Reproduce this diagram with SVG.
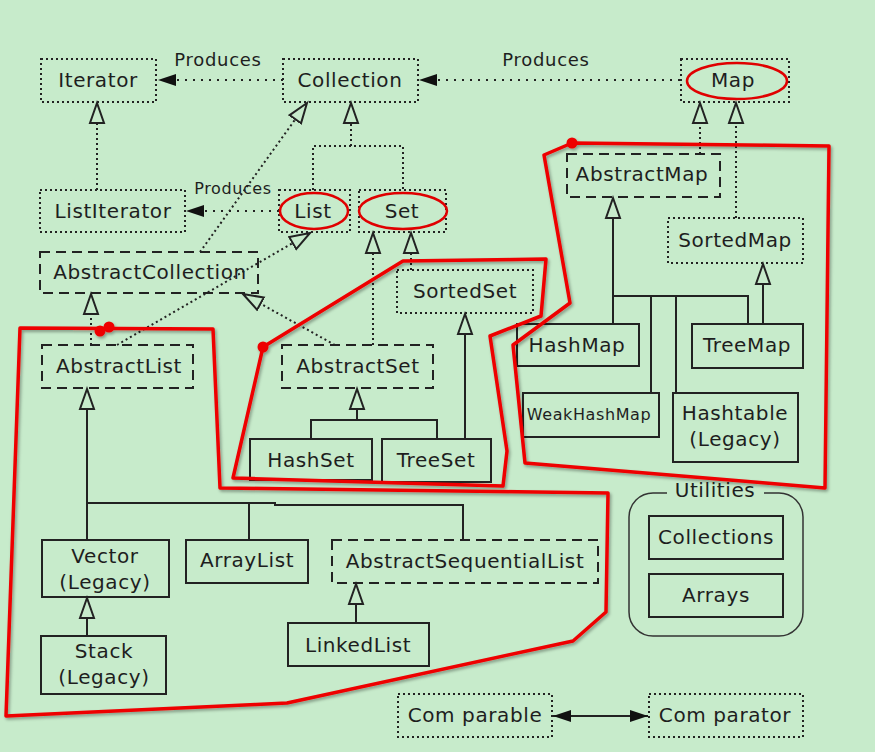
<svg xmlns="http://www.w3.org/2000/svg" width="875" height="752" viewBox="0 0 875 752">
<defs>
<style>
.box{fill:none;stroke:#222;stroke-width:2}
.dot{stroke-dasharray:2 3}
.dash{stroke-dasharray:10 6}
.t{font-family:"DejaVu Sans","Liberation Sans",sans-serif;font-size:20px;letter-spacing:0.6px;fill:#1e1e1e;text-anchor:middle}
.ln{fill:none;stroke:#222;stroke-width:2}
.dl{stroke-dasharray:2 3}
.prod{fill:none;stroke:#222;stroke-width:2;stroke-dasharray:2 6}
.red{fill:none;stroke:#ee0000;stroke-width:3.5;stroke-linejoin:round}
.ell{fill:none;stroke:#e00000;stroke-width:2.5}
</style>
<marker id="hollow" markerUnits="userSpaceOnUse" markerWidth="24" markerHeight="18" viewBox="0 -9 24 18" refX="21" refY="0" orient="auto">
<path d="M21,0 L1,-7 L1,7 Z" fill="#c7ebcb" stroke="#222" stroke-width="2" stroke-linejoin="miter"/>
</marker>
<marker id="filled" markerUnits="userSpaceOnUse" markerWidth="20" markerHeight="14" viewBox="0 -7 20 14" refX="19" refY="0" orient="auto-start-reverse">
<path d="M19,0 L1,-6 L1,6 Z" fill="#111"/>
</marker>
<filter id="sh" x="-5%" y="-5%" width="110%" height="110%">
<feDropShadow dx="1.5" dy="2" stdDeviation="1.5" flood-color="#000" flood-opacity="0.35"/>
</filter>
</defs>
<rect x="0" y="0" width="875" height="752" fill="#c7ebcb"/>

<g id="connectors">
<!-- Produces -->
<path class="prod" d="M283,80 H158" marker-end="url(#filled)"/>
<path class="prod" d="M680,80 H419" marker-end="url(#filled)"/>
<path class="prod" d="M279,211 H186" marker-end="url(#filled)"/>
<text class="t" x="218" y="66" style="font-size:18px;letter-spacing:0.7px">Produces</text>
<text class="t" x="546" y="66" style="font-size:18px;letter-spacing:0.7px">Produces</text>
<text class="t" x="233" y="194" style="font-size:16px;letter-spacing:0.6px">Produces</text>
<!-- ListIterator -> Iterator -->
<path class="ln dl" d="M97,190 V103" marker-end="url(#hollow)"/>
<!-- List, Set -> Collection -->
<path class="ln dl" d="M351,146 V103" marker-end="url(#hollow)"/>
<path class="ln dl" d="M313,190 V146 H403 V190"/>
<!-- AbstractCollection -> Collection -->
<path class="ln dl" d="M200,252 L307,103" marker-end="url(#hollow)"/>
<!-- AbstractList -> List -->
<path class="ln dl" d="M117,345 L310,233" marker-end="url(#hollow)"/>
<!-- AbstractList -> AbstractCollection -->
<path class="ln dl" d="M91,345 V294" marker-end="url(#hollow)"/>
<!-- AbstractSet -> AbstractCollection -->
<path class="ln dl" d="M335,345 L243,294" marker-end="url(#hollow)"/>
<!-- AbstractSet -> Set -->
<path class="ln dl" d="M373,345 V233" marker-end="url(#hollow)"/>
<!-- SortedSet -> Set -->
<path class="ln dl" d="M411,270 V233" marker-end="url(#hollow)"/>
<!-- HashSet, TreeSet -> AbstractSet -->
<path class="ln" d="M357,420 V389" marker-end="url(#hollow)"/>
<path class="ln" d="M311,439 V420 H437 V439"/>
<!-- TreeSet -> SortedSet -->
<path class="ln" d="M465,439 V314" marker-end="url(#hollow)"/>
<!-- AbstractMap -> Map -->
<path class="ln dl" d="M700,154 V103" marker-end="url(#hollow)"/>
<!-- SortedMap -> Map -->
<path class="ln dl" d="M736,218 V103" marker-end="url(#hollow)"/>
<!-- Map implementations -> AbstractMap -->
<path class="ln" d="M613,324 V198" marker-end="url(#hollow)"/>
<path class="ln" d="M613,296 H748 V324 M651,296 V393 M676,296 V393"/>
<!-- TreeMap -> SortedMap -->
<path class="ln" d="M763,324 V264" marker-end="url(#hollow)"/>
<!-- List implementations -> AbstractList -->
<path class="ln" d="M87,540 V389" marker-end="url(#hollow)"/>
<path class="ln" d="M87,503 H275 V505 H463 V540 M249,503 V540"/>
<!-- Stack -> Vector -->
<path class="ln" d="M87,636 V598" marker-end="url(#hollow)"/>
<!-- LinkedList -> AbstractSequentialList -->
<path class="ln" d="M356,623 V584" marker-end="url(#hollow)"/>
<!-- Comparable <-> Comparator -->
<path class="ln" d="M553,716 H648" marker-start="url(#filled)" marker-end="url(#filled)"/>
</g>

<g id="node-iterator"><rect class="box dot" x="41" y="59" width="115" height="43"/><text class="t" x="98" y="87">Iterator</text></g>
<g id="node-collection"><rect class="box dot" x="283" y="59" width="135" height="43"/><text class="t" x="350" y="87">Collection</text></g>
<g id="node-map"><rect class="box dot" x="681" y="59" width="108" height="43"/><text class="t" x="733" y="87">Map</text></g>
<g id="node-listiterator"><rect class="box dot" x="40" y="190" width="145" height="42"/><text class="t" x="113" y="218">ListIterator</text></g>
<g id="node-list"><rect class="box dot" x="279" y="190" width="71" height="42"/><text class="t" x="313" y="218">List</text></g>
<g id="node-set"><rect class="box dot" x="359" y="190" width="87" height="42"/><text class="t" x="402" y="218">Set</text></g>
<g id="node-abstractcollection"><rect class="box dash" x="40" y="252" width="218" height="41"/><text class="t" x="150" y="279">AbstractCollection</text></g>
<g id="node-abstractlist"><rect class="box dash" x="42" y="345" width="151" height="43"/><text class="t" x="119" y="373">AbstractList</text></g>
<g id="node-abstractset"><rect class="box dash" x="282" y="345" width="151" height="43"/><text class="t" x="358" y="373">AbstractSet</text></g>
<g id="node-sortedset"><rect class="box dot" x="397" y="270" width="136" height="43"/><text class="t" x="465" y="298">SortedSet</text></g>
<g id="node-hashset"><rect class="box" x="250" y="439" width="122" height="41"/><text class="t" x="311" y="467">HashSet</text></g>
<g id="node-treeset"><rect class="box" x="382" y="439" width="109" height="43"/><text class="t" x="436" y="467">TreeSet</text></g>
<g id="node-abstractmap"><rect class="box dash" x="567" y="154" width="153" height="43"/><text class="t" x="642" y="181">AbstractMap</text></g>
<g id="node-sortedmap"><rect class="box dot" x="668" y="218" width="135" height="45"/><text class="t" x="735" y="247">SortedMap</text></g>
<g id="node-hashmap"><rect class="box" x="517" y="324" width="122" height="42"/><text class="t" x="577" y="352">HashMap</text></g>
<g id="node-treemap"><rect class="box" x="692" y="324" width="111" height="44"/><text class="t" x="747" y="352">TreeMap</text></g>
<g id="node-weakhashmap"><rect class="box" x="523" y="393" width="136" height="44"/><text class="t" x="589" y="420" style="font-size:16px;letter-spacing:0.6px">WeakHashMap</text></g>
<g id="node-hashtable"><rect class="box" x="673" y="393" width="125" height="69"/><text class="t" x="735" y="420">Hashtable</text><text class="t" x="735" y="446">(Legacy)</text></g>
<g id="node-vector"><rect class="box" x="42" y="540" width="127" height="57"/><text class="t" x="105" y="563">Vector</text><text class="t" x="105" y="589">(Legacy)</text></g>
<g id="node-arraylist"><rect class="box" x="186" y="540" width="122" height="43"/><text class="t" x="247" y="567">ArrayList</text></g>
<g id="node-abstractsequentiallist"><rect class="box dash" x="332" y="540" width="266" height="43"/><text class="t" x="465" y="568">AbstractSequentialList</text></g>
<g id="node-linkedlist"><rect class="box" x="288" y="623" width="141" height="43"/><text class="t" x="358" y="652">LinkedList</text></g>
<g id="node-stack"><rect class="box" x="41" y="636" width="125" height="58"/><text class="t" x="104" y="658">Stack</text><text class="t" x="104" y="684">(Legacy)</text></g>
<g id="node-utilities">
<path d="M667,493 H653 A24,24 0 0 0 629,517 V612 A24,24 0 0 0 653,636 H779 A24,24 0 0 0 803,612 V517 A24,24 0 0 0 779,493 H764" fill="none" stroke="#333" stroke-width="1.5"/>
<text class="t" x="715" y="497">Utilities</text>
</g>
<g id="node-collections"><rect class="box" x="649" y="516" width="134" height="43"/><text class="t" x="716" y="544">Collections</text></g>
<g id="node-arrays"><rect class="box" x="649" y="574" width="134" height="43"/><text class="t" x="716" y="602">Arrays</text></g>
<g id="node-comparable"><rect class="box dot" x="398" y="694" width="154" height="43"/><text class="t" x="475" y="722">Com parable</text></g>
<g id="node-comparator"><rect class="box dot" x="649" y="694" width="154" height="43"/><text class="t" x="725" y="722">Com parator</text></g>

<g id="annotations">
<ellipse class="ell" cx="737" cy="81" rx="50" ry="18"/>
<ellipse class="ell" cx="314" cy="211" rx="34" ry="18"/>
<ellipse class="ell" cx="403" cy="211" rx="44" ry="18"/>
<g filter="url(#sh)">
<path class="red" d="M20,328 L213,329 L220,488 L608,493 L606,612 L573,641 L287,703 L6,716 Z"/>
<path class="red" d="M263,347 L403,261 L546,259 L541,316 L490,336 L507,451 L503,486 L233,478 Z"/>
<path class="red" d="M544,155 L572,143 L829,146 L825,488 L525,463 L513,345 L570,303 Z"/>
<g fill="#ee0000">
<circle cx="100" cy="331" r="5.5"/>
<circle cx="109" cy="327" r="5.5"/>
<circle cx="263" cy="347" r="5.5"/>
<circle cx="572" cy="143" r="5.5"/>
</g>
</g>
</g>
</svg>
